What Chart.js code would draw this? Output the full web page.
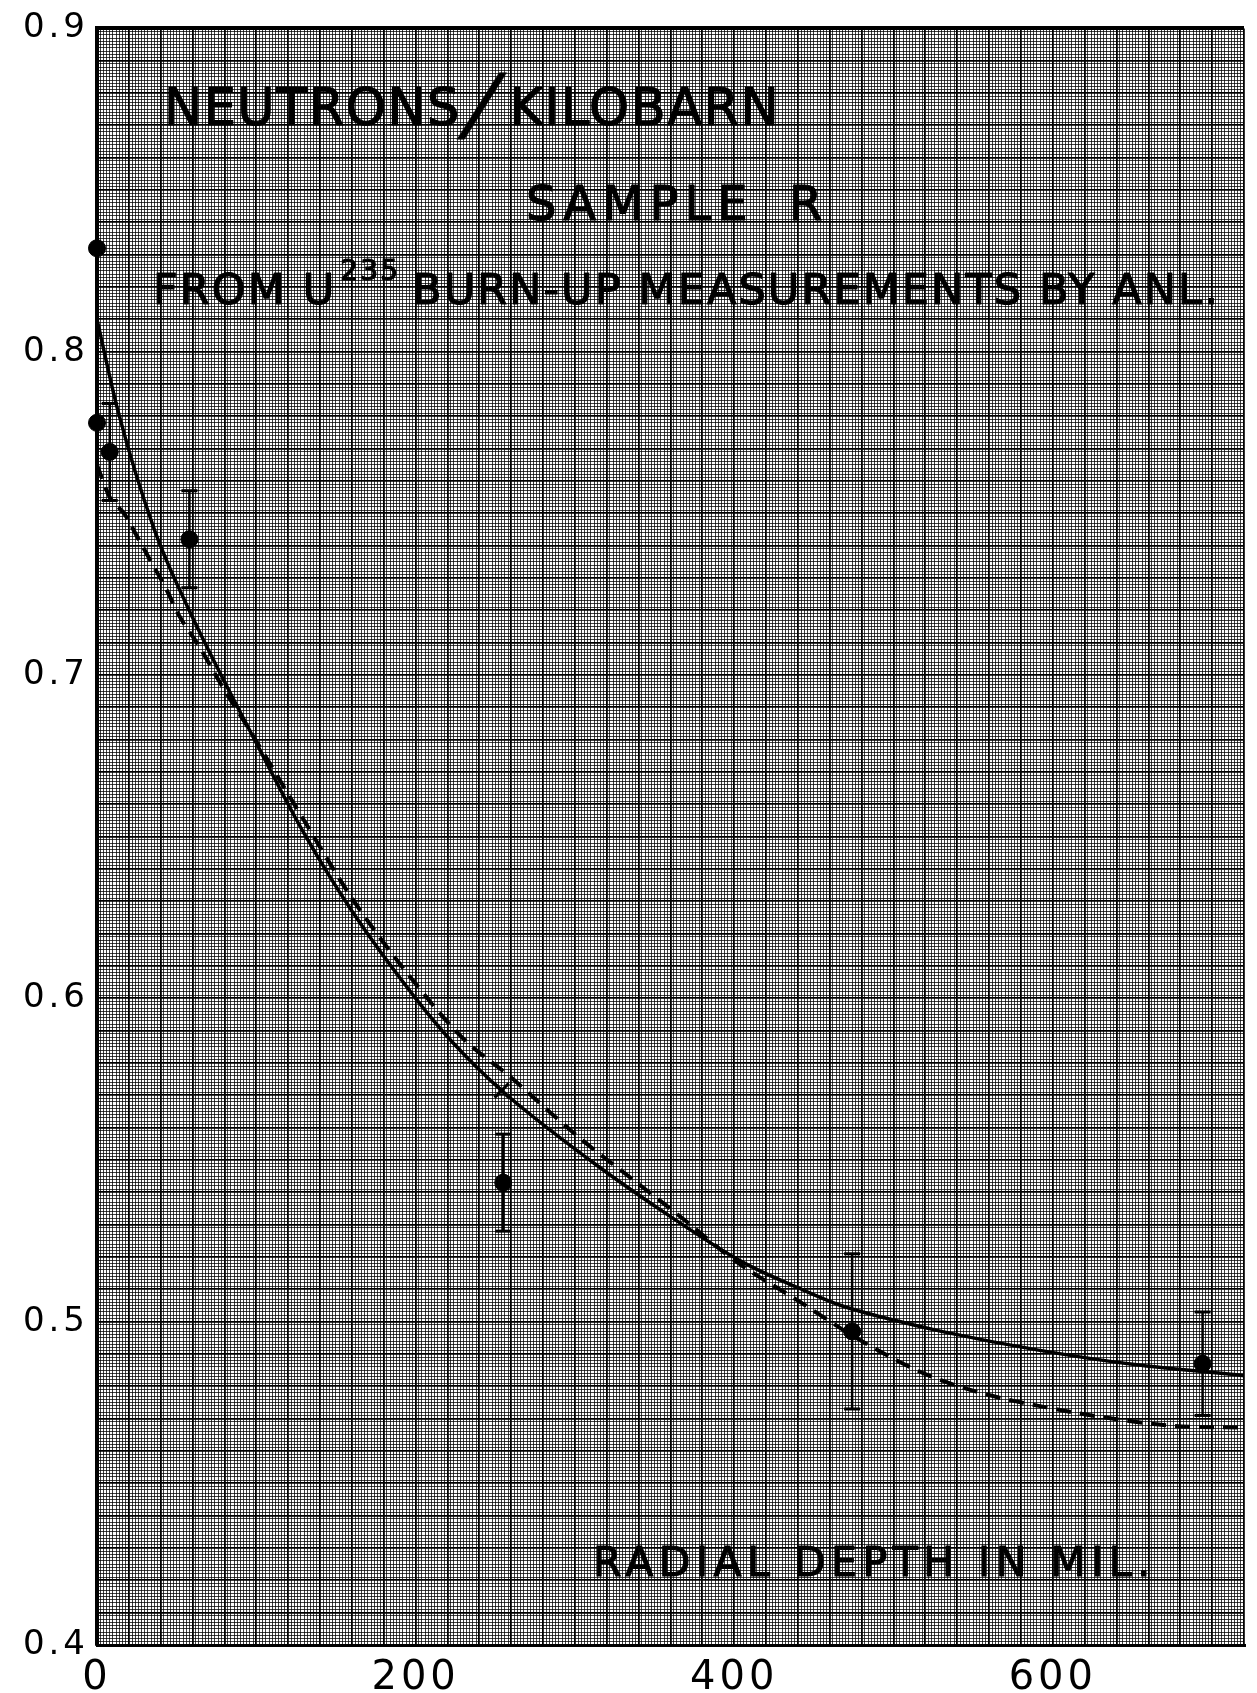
<!DOCTYPE html>
<html>
<head>
<meta charset="utf-8">
<title>Neutrons / kilobarn - sample R</title>
<script src="https://cdn.jsdelivr.net/npm/chart.js@4.4.1/dist/chart.umd.min.js"></script>
<style>
  body { margin: 0; background: #fff; }
  #wrap { position: relative; width: 1257px; height: 1693px; }
  .note { position: absolute; font-family: "DejaVu Sans", sans-serif; color: #000; white-space: nowrap; line-height: 1; -webkit-text-stroke: 1.2px #000; }
  .slash { display: inline-block; font-size: 80px; line-height: 0; margin: 0 12px 0 8px; transform: skewX(-18deg); position: relative; top: 6px; }
  .sup { font-size: 28px; position: relative; top: -24px; margin-left: 4px; margin-right: 12px; }
</style>
</head>
<body>
<div id="wrap">
  <canvas id="chart"></canvas>
  <div class="note" style="left:164px;top:82px;font-size:51px;letter-spacing:1.5px">NEUTRONS<span class="slash">/</span>KILOBARN</div>
  <div class="note" style="left:526px;top:179px;font-size:48px;letter-spacing:6px;word-spacing:14px">SAMPLE R</div>
  <div class="note" style="left:153px;top:268px;font-size:43px;letter-spacing:2.1px">FROM U<span class="sup">235</span>BURN-UP MEASUREMENTS BY ANL.</div>
  <div class="note" style="left:593px;top:1542px;font-size:41px;letter-spacing:5.5px">RADIAL DEPTH IN MIL.</div>
</div>
<script>
// values (x = radial depth in mil, y = neutrons/kilobarn)
const solidX = [0, 13, 36, 56, 101, 130, 160, 200, 223, 254, 312, 360, 405, 440, 467, 500, 530, 591, 650, 720];
const solidY = [0.810, 0.782, 0.745, 0.722, 0.678, 0.651, 0.627, 0.600, 0.5865, 0.5715, 0.549, 0.5325, 0.5185, 0.5105, 0.505, 0.5005, 0.497, 0.4912, 0.4868, 0.4833];

const dashX = [0, 8, 17, 25, 34, 43, 52, 64, 78, 97, 130, 160, 200, 230, 260, 285, 305, 335, 370, 400, 440, 480, 520, 556, 596, 635, 675, 720];
const dashY = [0.765, 0.755, 0.750, 0.743, 0.735, 0.727, 0.718, 0.709, 0.697, 0.682, 0.655, 0.631, 0.6045, 0.5875, 0.5755, 0.5645, 0.556, 0.5445, 0.531, 0.519, 0.5065, 0.494, 0.4838, 0.4778, 0.4735, 0.4702, 0.4678, 0.4672];

// measured points and their error bars
const pointX = [0, 0, 8, 58, 255, 474, 694];
const pointY = [0.832, 0.778, 0.769, 0.742, 0.543, 0.497, 0.487];
const pointErr = [0, 0, 0.015, 0.015, 0.015, 0.024, 0.016];

// the single "x" mark on the curve
const crossX = [254];
const crossY = [0.5715];

const xTickLabels = [0, 200, 400, 600];
const yTickLabels = [0.4, 0.5, 0.6, 0.7, 0.8, 0.9];

const toXY = (xs, ys) => xs.map((x, i) => ({ x: x, y: ys[i] }));

let errorSets = [];
pointX.forEach((x, i) => {
  if (pointErr[i] > 0) {
    errorSets.push({
      data: [{ x: x, y: pointY[i] - pointErr[i] }, { x: x, y: pointY[i] + pointErr[i] }],
      showLine: true,
      borderColor: '#000',
      borderWidth: 2.5,
      pointStyle: 'line',
      pointRadius: 8,
      pointBorderWidth: 3,
      clip: false
    });
  }
});

const datasets = [
  {
    label: 'solid',
    data: toXY(solidX, solidY),
    showLine: true,
    borderColor: '#000',
    borderWidth: 3.5,
    pointRadius: 0,
    cubicInterpolationMode: 'monotone'
  },
  {
    label: 'dashed',
    data: toXY(dashX, dashY),
    showLine: true,
    borderColor: '#000',
    borderWidth: 4,
    borderDash: [15, 9],
    pointRadius: 0,
    cubicInterpolationMode: 'monotone'
  },
  {
    label: 'points',
    data: toXY(pointX, pointY),
    pointRadius: 8.5,
    backgroundColor: '#000',
    borderColor: '#000',
    clip: false
  },
  {
    label: 'cross',
    data: toXY(crossX, crossY),
    pointStyle: 'crossRot',
    pointRadius: 10,
    borderColor: '#000',
    borderWidth: 3
  }
].concat(errorSets);

const isMajorX = v => Math.round(v) % 20 === 0;
const isMajorY = v => Math.round(v * 1000) % 10 === 0;

// the hand lettered numbers on the paper are widely spaced
const spacedLabels = {
  id: 'spacedLabels',
  beforeDraw: chart => { chart.ctx.letterSpacing = '4px'; }
};

new Chart(document.getElementById('chart'), {
  type: 'scatter',
  data: { datasets: datasets },
  plugins: [spacedLabels],
  options: {
    responsive: true,
    maintainAspectRatio: false,
    animation: false,
    layout: { padding: { top: 24, right: 0, left: 0, bottom: 0 } },
    plugins: { legend: { display: false }, tooltip: { enabled: false } },
    scales: {
      x: {
        type: 'linear',
        min: 0,
        max: 720,
        afterFit: s => { s.height = 48; },
        border: { display: true, width: 3, color: '#000' },
        grid: {
          drawTicks: false,
          color: c => isMajorX(c.tick.value) ? '#000' : 'rgba(0,0,0,0.75)',
          lineWidth: c => c.tick.value === 0 ? 4 : (isMajorX(c.tick.value) ? 1.8 : 1)
        },
        ticks: {
          stepSize: 2,
          autoSkip: false,
          maxRotation: 0,
          padding: 10,
          color: '#000',
          font: { family: 'DejaVu Sans', size: 40 },
          callback: v => xTickLabels.includes(v) ? String(v) : ''
        }
      },
      y: {
        type: 'linear',
        min: 0.4,
        max: 0.9,
        afterFit: s => { s.width = 97; },
        border: { display: true, width: 4, color: '#000' },
        grid: {
          drawTicks: false,
          color: c => isMajorY(c.tick.value) ? '#000' : 'rgba(0,0,0,0.75)',
          lineWidth: c => Math.abs(c.tick.value - 0.9) < 1e-9 ? 4 : (isMajorY(c.tick.value) ? 1.8 : 1)
        },
        ticks: {
          stepSize: 0.001,
          autoSkip: false,
          padding: 8,
          color: '#000',
          font: { family: 'DejaVu Sans', size: 34 },
          callback: v => yTickLabels.some(t => Math.abs(t - v) < 1e-9) ? v.toFixed(1) : ''
        }
      }
    }
  }
});
</script>
</body>
</html>
